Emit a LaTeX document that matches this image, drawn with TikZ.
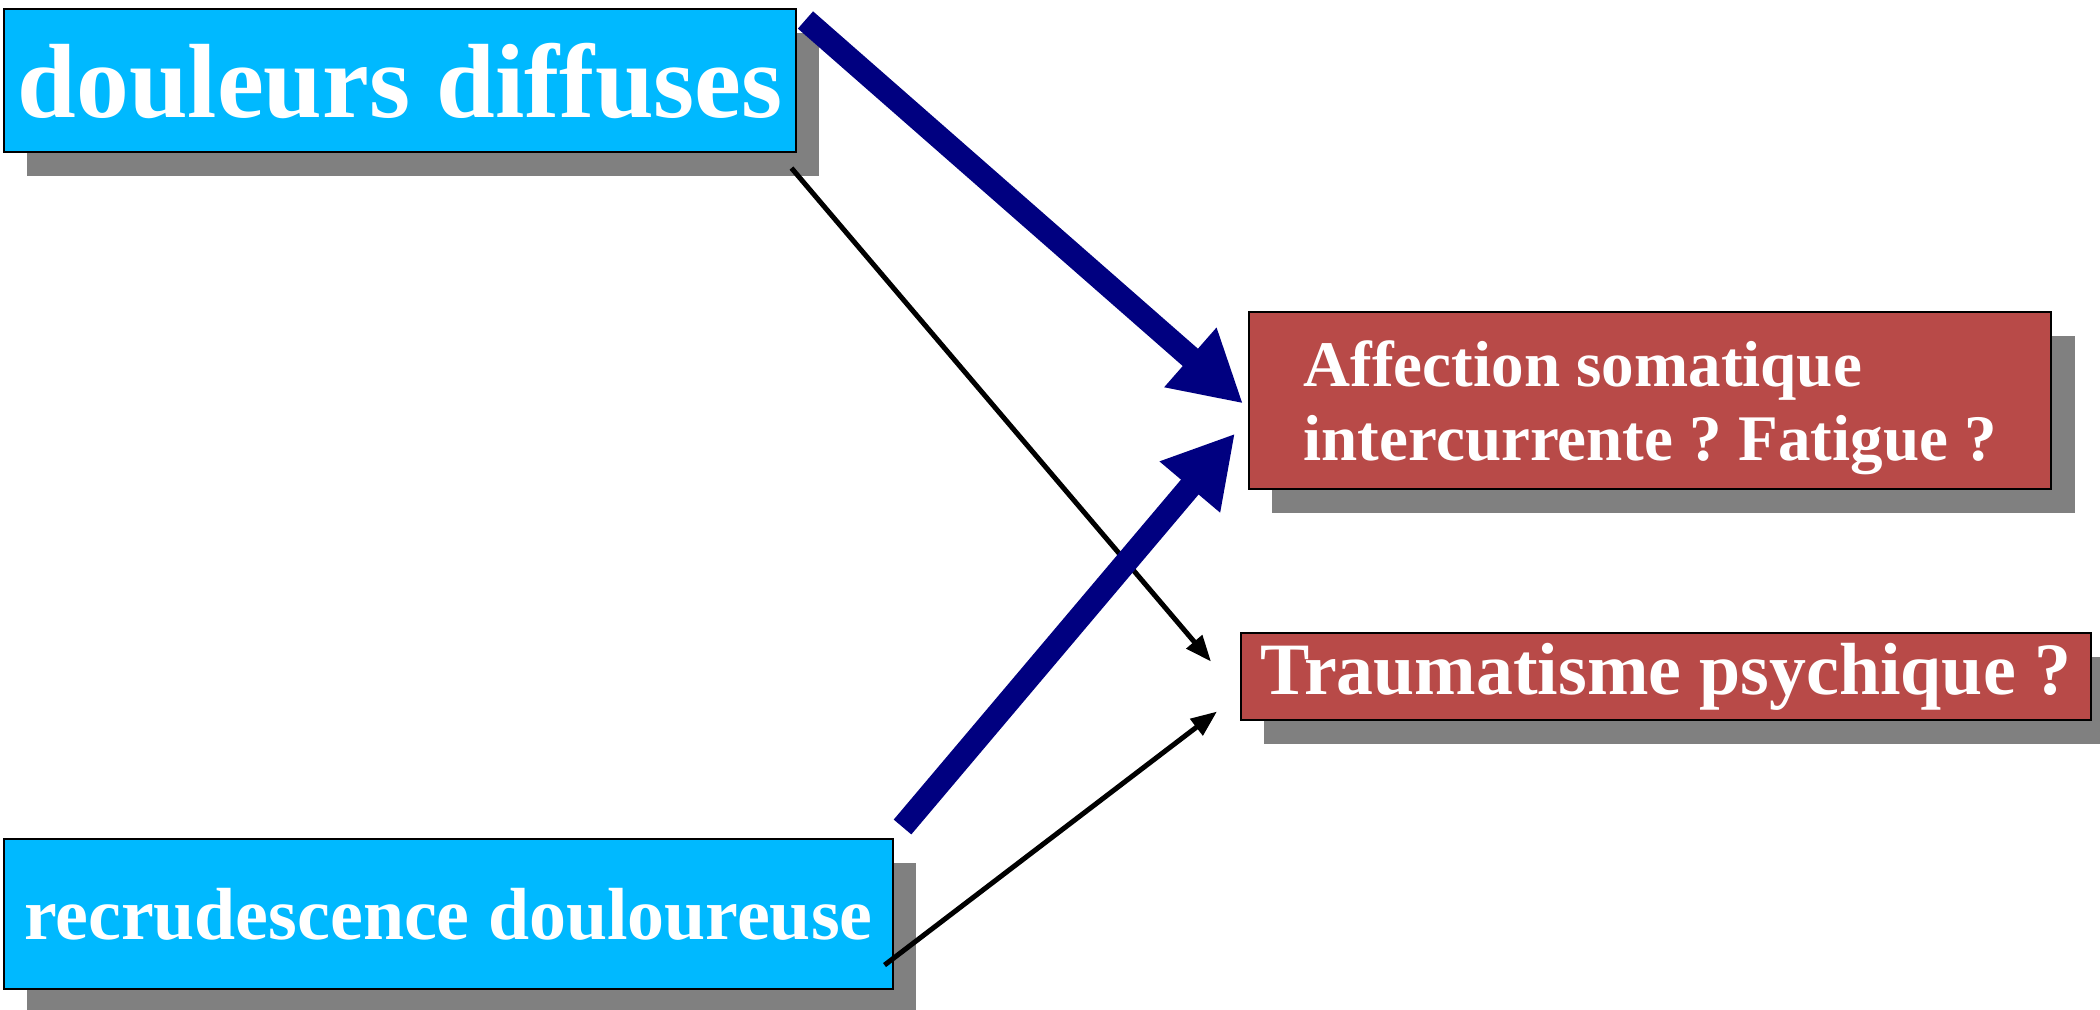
\documentclass[tikz,border=0pt]{standalone}
\usepackage{fontspec}
\setmainfont{Liberation Serif}
\usetikzlibrary{arrows.meta}
\usetikzlibrary{shadows}
\usetikzlibrary{calc}
\frenchspacing

\definecolor{boxcyan}{RGB}{0,185,255}
\definecolor{boxred}{RGB}{184,74,72}
\definecolor{arrownavy}{RGB}{0,0,128}
\definecolor{shadowgray}{RGB}{128,128,128}

\tikzset{
  box/.style={draw=black, line width=0.2mm, anchor=north west, inner sep=0pt,
    text=white, font=\bfseries,
    drop shadow={shadow xshift=2.3mm, shadow yshift=-2.4mm, fill=shadowgray, opacity=1}},
  bluebox/.style={box, fill=boxcyan},
  redbox/.style={box, fill=boxred},
  bigarrow/.style={draw=arrownavy, line width=2.3mm, -{Triangle[length=7mm, width=7.4mm]}},
  thinarrow/.style={draw=black, line width=0.5mm, -{Triangle[length=2.6mm, width=2mm]}}
}

\begin{document}
\begin{tikzpicture}[x=0.01cm, y=-0.01cm]
      \useasboundingbox (0,0) rectangle (2100,1010);
      \node[bluebox, minimum width=7.92cm, minimum height=1.43cm, font=\bfseries\fontsize{30}{34}\selectfont] (douleurs) at (3,8) {douleurs diffuses};
      \node[bluebox, minimum width=8.88cm, minimum height=1.50cm, font=\bfseries\fontsize{21}{24}\selectfont] (recrud) at (3,838) {recrudescence douloureuse};
      \node[redbox, minimum width=8.02cm, minimum height=1.77cm, align=left, text depth=0pt, font=\bfseries\fontsize{18.5}{21}\selectfont] (affection) at (1248,311) {Affection somatique\\intercurrente ? Fatigue ?};
      \node[redbox, minimum width=8.49cm, minimum height=0.87cm, font=\bfseries\fontsize{21}{24}\selectfont] (trauma) at (1240,632) {Traumatisme psychique ?};
      \coordinate (dd-a) at ($(douleurs.north east)+(8,12)$);
      \coordinate (dd-b) at ($(douleurs.south east)+(-6,15)$);
      \coordinate (rd-a) at ($(recrud.north east)+(9,-11)$);
      \coordinate (rd-b) at ($(recrud.south east)+(-9,-25)$);
      \coordinate (af-a) at ($(affection.west)+(-5,3)$);
      \coordinate (af-b) at ($(affection.west)+(-13,33)$);
      \coordinate (tr-a) at ($(trauma.west)+(-29,-15)$);
      \coordinate (tr-b) at ($(trauma.west)+(-23,35)$);
      \draw[thinarrow] (dd-b) -- (tr-a);
      \draw[thinarrow] (rd-b) -- (tr-b);
      \draw[bigarrow] (dd-a) -- (af-a);
      \draw[bigarrow] (rd-a) -- (af-b);
\end{tikzpicture}
\end{document}
